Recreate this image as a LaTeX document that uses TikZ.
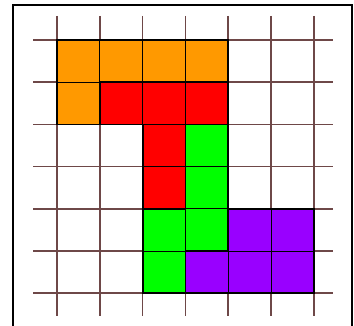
\documentclass[tikz,border=0pt]{standalone}
\definecolor{pcorange}{RGB}{255,153,0}
\definecolor{pcred}{RGB}{255,0,0}
\definecolor{pcgreen}{RGB}{0,255,0}
\definecolor{pcpurple}{RGB}{153,0,255}
\definecolor{gridbrown}{RGB}{110,72,72}
\begin{document}
\begin{tikzpicture}[
  x=42.8pt, y=-42.2pt,
  gridline/.style={draw=gridbrown, line width=1.6pt},
  cell/.style={draw=black, line width=0.9pt},
  piece/.style={draw=black, line width=1.8pt, line join=miter},
  frame/.style={draw=black, line width=2.4pt}
]
\useasboundingbox (-1.332,-0.948) rectangle (6.939,6.754);
\draw[frame] (-1.028,-0.829) rectangle (6.893,6.85);

% grid
\foreach \i in {0,...,6} {
  \draw[gridline] (\i,-0.57) -- (\i,6.54);
  \draw[gridline] (-0.56,\i) -- (6.45,\i);
}

% cells of each piece
\foreach \c/\r in {0/0, 1/0, 2/0, 3/0, 0/1}
  \draw[cell, fill=pcorange] (\c,\r) rectangle ++(1,1);
\foreach \c/\r in {1/1, 2/1, 3/1, 2/2, 2/3}
  \draw[cell, fill=pcred] (\c,\r) rectangle ++(1,1);
\foreach \c/\r in {3/2, 3/3, 2/4, 3/4, 2/5}
  \draw[cell, fill=pcgreen] (\c,\r) rectangle ++(1,1);
\foreach \c/\r in {4/4, 5/4, 3/5, 4/5, 5/5}
  \draw[cell, fill=pcpurple] (\c,\r) rectangle ++(1,1);

% piece outlines
\draw[piece] (0,0) -- (4,0) -- (4,1) -- (1,1) -- (1,2) -- (0,2) -- cycle;
\draw[piece] (1,1) -- (4,1) -- (4,2) -- (3,2) -- (3,4) -- (2,4) -- (2,2) -- (1,2) -- cycle;
\draw[piece] (3,2) -- (4,2) -- (4,5) -- (3,5) -- (3,6) -- (2,6) -- (2,4) -- (3,4) -- cycle;
\draw[piece] (4,4) -- (6,4) -- (6,6) -- (3,6) -- (3,5) -- (4,5) -- cycle;
\end{tikzpicture}
\end{document}
